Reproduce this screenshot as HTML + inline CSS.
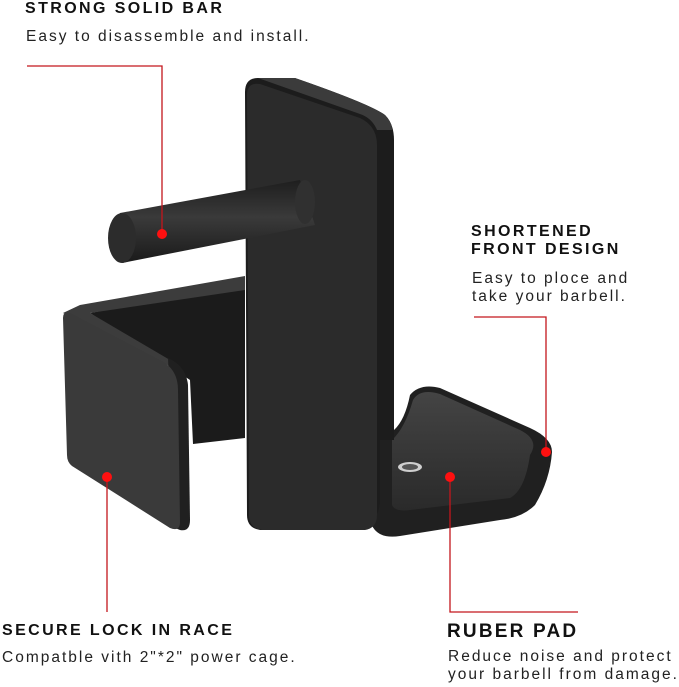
<!DOCTYPE html>
<html><head><meta charset="utf-8"><style>
html,body{margin:0;padding:0;background:#fff;}
body{width:679px;height:687px;position:relative;overflow:hidden;font-family:"Liberation Sans",Arial,sans-serif;color:#111;}
.t{position:absolute;white-space:nowrap;}
.h{font-weight:bold;font-size:16px;letter-spacing:2.4px;}
.p{font-size:15.5px;color:#222;letter-spacing:2px;}
</style></head><body>
<svg width="679" height="687" style="position:absolute;left:0;top:0">
<defs>
<linearGradient id="bar" x1="0" y1="0" x2="0" y2="1"><stop offset="0" stop-color="#1e1e1e"/><stop offset="0.45" stop-color="#3a3a3a"/><stop offset="1" stop-color="#1a1a1a"/></linearGradient>
<linearGradient id="pad" x1="0" y1="0" x2="0" y2="1"><stop offset="0" stop-color="#444"/><stop offset="1" stop-color="#2a2a2a"/></linearGradient>
</defs>
<!-- left U bracket back -->
<polygon points="90,313 245,284 245,438 193,444 190,380" fill="#1b1b1b"/>
<polygon points="63,313 80,305 245,276 245,290 90,313 170,360 182,372" fill="#3c3c3c"/>
<path d="M168,358 Q186,366 188,385 L190,520 Q190,532 180,530 L175,528 Z" fill="#202020"/>
<path d="M63,318 Q63,310 72,314 L165,363 Q178,372 178,390 L180,522 Q180,532 170,528 L72,466 Q67,462 67,455 Z" fill="#3a3a3a"/>
<!-- J hook (behind plate) -->
<path d="M370,520 L370,430 L394,430 Q405,420 410,395 Q420,383 440,388 L530,428 Q552,438 552,452 Q550,480 535,505 Q522,518 500,520 L400,536 Q375,540 370,520 Z" fill="#202020"/>
<path d="M392,505 L392,440 Q405,428 413,400 Q420,388 440,394 L520,430 Q540,440 530,455 Q525,490 510,498 L410,510 Q395,512 392,505 Z" fill="url(#pad)"/>
<ellipse cx="410" cy="467" rx="12" ry="5" fill="#cfcfcf"/>
<ellipse cx="410" cy="467" rx="8" ry="3" fill="#555"/>
<!-- main plate silhouette -->
<path d="M245,92 Q245,78 258,78 L295,78 Q370,104 385,115 Q394,124 394,140 L394,440 L380,440 L380,500 Q380,520 360,530 L260,530 Q247,528 247,515 Z" fill="#1c1c1c"/>
<path d="M247,95 Q247,82 260,84 L360,118 Q377,126 377,145 L377,515 Q377,528 365,530 L262,530 Q249,528 249,515 Z" fill="#2b2b2b"/>
<path d="M258,78 L295,78 Q370,104 385,115 Q392,122 392,130 L377,130 Q372,118 360,114 Z" fill="#3b3b3b"/>
<!-- bar -->
<polygon points="120,213 300,180 315,225 122,263" fill="url(#bar)"/>
<ellipse cx="305" cy="202" rx="10" ry="22" fill="#303030"/>
<ellipse cx="122" cy="238" rx="14" ry="25" fill="#2c2c2c"/>
<!-- red callouts -->
<g stroke="#c4161c" stroke-width="1.3" fill="none">
<polyline points="27,66 162,66 162,233"/>
<polyline points="474,317 546,317 546,452"/>
<line x1="107" y1="477" x2="107" y2="612"/>
<polyline points="450,477 450,612 578,612"/>
</g>
<g fill="#ff1010">
<circle cx="162" cy="234" r="5"/>
<circle cx="546" cy="452" r="5"/>
<circle cx="107" cy="477" r="5"/>
<circle cx="450" cy="477" r="5"/>
</g>
</svg>
<div class="t h" style="left:25px;top:0px;">STRONG SOLID BAR</div>
<div class="t p" style="left:26px;top:28px;">Easy to disassemble and install.</div>
<div class="t h" style="left:471px;top:223px;">SHORTENED</div>
<div class="t h" style="left:471px;top:241px;">FRONT DESIGN</div>
<div class="t p" style="left:472px;top:270px;">Easy to ploce and</div>
<div class="t p" style="left:472px;top:288px;">take your barbell.</div>
<div class="t h" style="left:2px;top:622px;">SECURE LOCK IN RACE</div>
<div class="t p" style="left:2px;top:649px;">Compatble vith 2"*2" power cage.</div>
<div class="t" style="left:447px;top:621px;font-size:19px;font-weight:bold;letter-spacing:2.2px;">RUBER PAD</div>
<div class="t p" style="left:448px;top:648px;">Reduce noise and protect</div>
<div class="t p" style="left:448px;top:666px;">your barbell from damage.</div>
</body></html>
